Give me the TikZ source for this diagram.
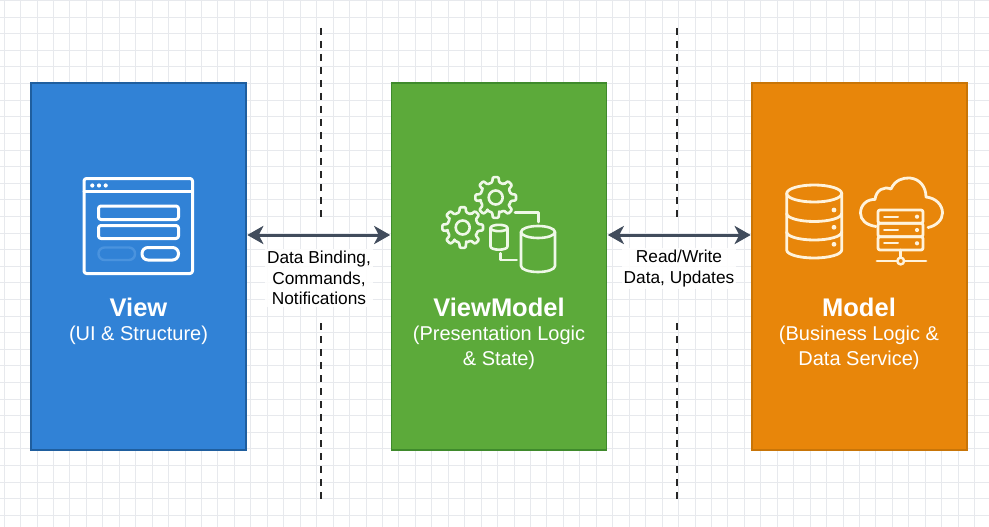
\documentclass[tikz,border=0pt]{standalone}
\usepackage{fontspec}
\setmainfont{Liberation Sans}
\usetikzlibrary{arrows.meta}
\definecolor{gridc}{HTML}{E7E9ED}
\definecolor{bluef}{HTML}{3182D6}
\definecolor{blued}{HTML}{1F5E9E}
\definecolor{greenf}{HTML}{5CAA3A}
\definecolor{greend}{HTML}{3F8A2C}
\definecolor{orangef}{HTML}{E8860A}
\definecolor{oranged}{HTML}{C87508}
\definecolor{arrowc}{HTML}{414C5C}
\definecolor{cream}{HTML}{FFF3DC}
\definecolor{mint}{HTML}{EFF8E8}
\definecolor{dimbtn}{HTML}{4A93DE}
\tikzset{
  panel/.style={draw=#1,line width=1.6pt,minimum width=215pt,minimum height=367pt,inner sep=0pt},
  title/.style={text=white,font=\fontsize{25.5}{29}\selectfont\bfseries,align=center,inner sep=0pt},
  sub/.style={text=white,font=\fontsize{20}{24.5}\selectfont,align=center,inner sep=0pt},
  lab/.style={fill=white,fill opacity=.88,text opacity=1,text=black,font=\fontsize{17.3}{20.7}\selectfont,align=center,inner sep=2pt},
  twoway/.style={draw=arrowc,line width=3pt,{Stealth[length=16pt,width=18pt,inset=4.5pt]}-{Stealth[length=16pt,width=18pt,inset=4.5pt]},shorten >=0.5pt,shorten <=0.5pt},
  sep/.style={draw=black!85,line width=1.5pt,dash pattern=on 7pt off 6pt},
  ico/.style={draw=white,line width=3pt,line join=round,line cap=round},
  icg/.style={draw=mint,line width=2.6pt,line join=round,line cap=round},
  ico2/.style={draw=cream,line width=2.8pt,line join=round,line cap=round},
}
\newcommand{\gearat}[2]{%
  \begin{scope}[shift={(#1,#2)}]
    \draw[icg,rounded corners=1pt] (-13:15.5)
      \foreach \k in {0,45,...,315}{
        -- (\k-13:15.5) -- (\k-8:20.5) -- (\k+8:20.5) -- (\k+13:15.5)
        -- (\k+32:15.5)
      } -- cycle;
    \draw[icg] (0,0) circle (7);
  \end{scope}}
\begin{document}
\begin{tikzpicture}[x=1pt,y=-1pt]
\useasboundingbox (0,0) rectangle (989,527);
\fill[white] (0,0) rectangle (989,527);
% grid
\foreach \i in {0,...,60}{\draw[gridc,line width=.8pt] ({4+16.45*\i},0) -- ({4+16.45*\i},527);}
\foreach \i in {0,...,32}{\draw[gridc,line width=.8pt] (0,{0.5+16.6*\i}) -- (989,{0.5+16.6*\i});}
% panels
\node[panel=blued,fill=bluef] (view) at (138.5,266.5) {};
\node[panel=greend,fill=greenf] (vm) at (499,266.5) {};
\node[panel=oranged,fill=orangef] (model) at (859.5,266.5) {};
% separators
\coordinate (s1a) at (321,28); \coordinate (s1b) at (321,217);
\coordinate (s1c) at (321,323); \coordinate (s1d) at (321,502);
\coordinate (s2a) at (677,28); \coordinate (s2b) at (677,217);
\coordinate (s2c) at (677,323); \coordinate (s2d) at (677,502);
\draw[sep] (s1a) -- (s1b); \draw[sep] (s1c) -- (s1d);
\draw[sep] (s2a) -- (s2b); \draw[sep] (s2c) -- (s2d);
% labels
\node[lab] (l1) at (319,278) {Data Binding,\\Commands,\\Notifications};
\node[lab] (l2) at (679,268.5) {Read/Write\\Data, Updates};
% arrows
\draw[twoway] ([yshift=31.5pt]view.east) -- ([yshift=31.5pt]vm.west);
\draw[twoway] ([yshift=31.5pt]vm.east) -- ([yshift=31.5pt]model.west);
% panel texts
\node[title] (t1) at (138.5,307) {View};
\node[sub] (s1) at (138.5,335.5) {(UI \& Structure)};
\node[title] (t2) at (499,307) {ViewModel};
\node[sub,anchor=north] (s2) at (499,326) {(Presentation Logic\\\& State)};
\node[title] (t3) at (859,307) {Model};
\node[sub,anchor=north] (s3) at (859,326) {(Business Logic \&\\Data Service)};
% window icon
\draw[ico,rounded corners=2.5pt] (84,178.5) rectangle (192.5,273.5);
\draw[ico] (84,191.5) -- (192.5,191.5);
\foreach \x in {92.3,99,105.7}{\fill[white] (\x,185.5) circle (2.1);}
\draw[ico,rounded corners=2.5pt] (98.5,206) rectangle (178.5,219.5);
\draw[ico,rounded corners=2.5pt] (98.5,225.5) rectangle (178.5,238.5);
\draw[draw=dimbtn,line width=2.4pt,rounded corners=6pt] (98.5,247.5) rectangle (135,260);
\draw[ico,rounded corners=6pt] (142,247.5) rectangle (178.5,260);
% gears and cylinders
\gearat{495.7}{197.5}
\gearat{462.7}{227.5}
\draw[icg] (515,212.7) -- (538.3,212.7) -- (538.3,222);
\draw[icg] (500.7,253.3) -- (500.7,260) -- (516.7,260);
\draw[icg] (499,228) ellipse (8.5 and 3.2);
\draw[icg] (490.5,228) -- (490.5,246.5) arc[start angle=180,end angle=360,x radius=8.5,y radius=-3.2] -- (507.5,228);
\draw[icg] (538,232) ellipse (17 and 6);
\draw[icg] (521,232) -- (521,266) arc[start angle=180,end angle=360,x radius=17,y radius=-6] -- (555,232);
% database icon
\draw[ico2] (814.2,193.5) ellipse (27.5 and 8.5);
\draw[ico2] (786.7,193.5) -- (786.7,250) arc[start angle=180,end angle=360,x radius=27.5,y radius=-8] -- (841.7,193.5);
\draw[ico2] (786.7,213.5) arc[start angle=180,end angle=360,x radius=27.5,y radius=-8];
\draw[ico2] (786.7,232) arc[start angle=180,end angle=360,x radius=27.5,y radius=-8];
\foreach \y in {210,227.3,244.3}{\fill[cream] (834,\y) circle (2.4);}
% cloud icon
\draw[ico2] (876,226.5) .. controls (866,225) and (860.5,220) .. (860.5,213)
  .. controls (860.5,205) and (867,199) .. (875,199.5)
  .. controls (876,190) and (884,186) .. (891,189)
  .. controls (895,180) and (903,177.5) .. (910,178)
  .. controls (920,179) and (926,187) .. (926,197)
  .. controls (936,198) and (942.5,205) .. (942.5,213)
  .. controls (942.5,220) and (936,226) .. (928,227.5);
\draw[ico2,rounded corners=2pt] (878,210) rectangle (923,223.3);
\draw[ico2,rounded corners=2pt] (878,223.3) rectangle (923,236.7);
\draw[ico2,rounded corners=2pt] (878,236.7) rectangle (923,250);
\foreach \y in {216.7,230,243.3}{
  \draw[ico2,line width=2pt] (884,\y) -- (898,\y);
  \fill[cream] (917,\y) circle (2.1);
}
\draw[ico2] (900.7,250) -- (900.7,257.5);
\draw[ico2] (877,261) -- (897,261);
\draw[ico2] (904.5,261) -- (926,261);
\draw[ico2,line width=2.4pt] (900.7,261) circle (3.4);
\end{tikzpicture}
\end{document}
